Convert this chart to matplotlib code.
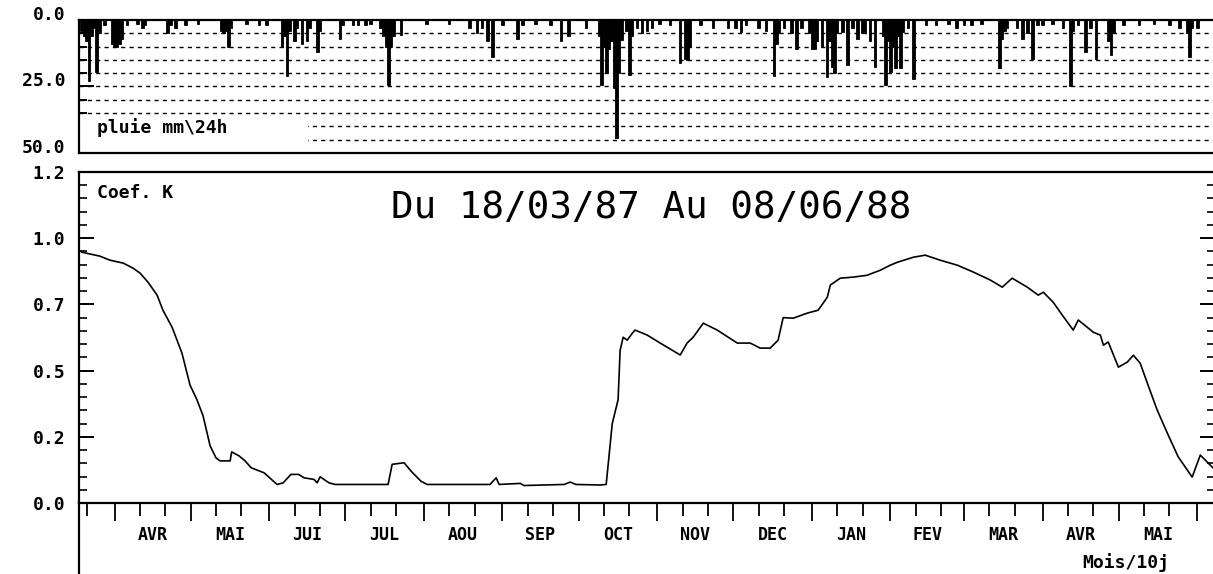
import numpy as np
import matplotlib
matplotlib.use('Agg')
import matplotlib.pyplot as plt
from matplotlib.lines import Line2D
from matplotlib.patches import Rectangle
from matplotlib.transforms import blended_transform_factory

start = np.datetime64('1987-03-18')
end = np.datetime64('1988-06-08')

# daily rain (mm/24h), day index counted from 18/03/87
rain_day = [1, 2, 3, 4, 5, 6, 7, 8, 10, 13, 14, 15, 16, 17, 19, 23, 25, 26, 35, 36,
            38, 42, 47, 56, 57, 58, 59, 60, 66, 71, 74, 80, 81, 82, 83, 85, 86, 88, 90, 91,
            94, 95, 103, 104, 108, 110, 113, 115, 119, 120, 121, 122, 123, 124, 127, 137, 146, 154, 157, 159,
            161, 163, 167, 173, 175, 180, 186, 190, 193, 200, 205, 206, 207, 208, 209, 210, 211, 212, 213, 214,
            216, 217, 218, 220, 222, 224, 226, 229, 233, 237, 239, 240, 241, 245, 250, 256, 259, 261, 263, 268,
            271, 274, 275, 276, 278, 281, 283, 285, 288, 289, 290, 291, 293, 295, 296, 297, 298, 299, 301, 303,
            305, 307, 309, 310, 312, 314, 317, 318, 319, 320, 321, 322, 323, 324, 325, 327, 329, 334, 338, 343,
            346, 349, 352, 356, 363, 364, 365, 366, 370, 372, 374, 376, 378, 380, 384, 388, 391, 392, 394, 397,
            399, 401, 406, 407, 408, 412, 418, 424, 430, 434, 437, 438, 439, 441]
rain_mm = [4, 6, 8, 23, 6, 3, 19.5, 5, 2, 9, 10, 10, 9, 7, 2, 1.5, 3, 2, 5, 2,
           3, 2, 1.5, 4, 5, 4, 10, 3, 1.5, 2, 2, 10, 6, 21, 4, 8, 3, 9, 8, 3,
           12, 4, 7, 2, 2, 2, 2, 1.5, 3, 6, 10, 24.5, 10, 6, 5.5, 1.5, 1.5, 3, 5, 3,
           8, 14, 2, 7, 2, 1.5, 2, 8, 6, 3, 6, 24.5, 10, 20, 11, 8, 25.5, 44.5, 20, 7.5,
           4, 20.5, 6, 3, 5, 4, 3, 1.5, 2, 16, 14.5, 15, 10, 2, 3, 3, 3, 4.5, 2, 3,
           4, 21, 9, 5, 3, 5, 11, 3, 5, 11, 11, 8, 10, 21.5, 8, 17.5, 20, 5, 4.5, 17,
           3, 7, 5, 4.5, 8, 17.5, 6, 24.5, 8, 19.5, 10, 18, 6, 18, 4.5, 3, 22, 2, 2, 1.5,
           3, 2, 2, 1.5, 18, 7, 4, 3, 3, 7, 5, 14.5, 2, 2, 1.5, 3, 25, 4, 2, 12,
           3, 14.5, 8, 13, 5, 2, 2, 1.5, 2, 3, 5, 14, 3, 3]

# coefficient K
k_day = [0, 1.2, 8.3, 12.2, 17.4, 21.3, 24.1, 27.2, 30.8, 33.1, 36.7, 40.6, 43.8, 46.5, 48.9,
         51.7, 54, 55.6, 59.6, 60.2, 63.1, 65.5, 67.9, 73, 78.1, 80.5, 83.6, 86.6, 88.8, 92.7,
         93.9, 95.1, 98.6, 101, 121.9, 123.5, 128.2, 131, 134.9, 137.3, 162.1, 164.5, 165.7, 174, 175.5,
         191.3, 193.7, 196, 205.5, 207.9, 210.3, 212.6, 213.4, 214.6, 216.2, 218.1, 219.3, 224.1, 229.2, 237.1,
         239.8, 242.2, 246.2, 251.7, 259.6, 264.7, 268.6, 272.6, 275.7, 277.7, 281.7, 287.2, 291.5, 295.1, 296.3,
         300.2, 305.3, 310.8, 316, 319.9, 322.7, 329, 333.7, 339.6, 346.4, 352.7, 359.4, 364.1, 368, 374,
         378.3, 380.3, 384.2, 387.8, 392.1, 394.1, 400, 402.8, 404, 405.9, 409.9, 413.4, 415.8, 418.5, 421.3,
         425.2, 429.2, 433.5, 439, 442.2, 448]
k_val = [0.955, 0.947, 0.932, 0.917, 0.906, 0.887, 0.868, 0.834, 0.785, 0.728, 0.664, 0.566, 0.445, 0.39, 0.33,
         0.216, 0.171, 0.159, 0.159, 0.193, 0.178, 0.159, 0.133, 0.114, 0.07, 0.076, 0.108, 0.108, 0.095, 0.089,
         0.076, 0.099, 0.076, 0.07, 0.07, 0.146, 0.152, 0.12, 0.082, 0.07, 0.07, 0.095, 0.07, 0.074, 0.066,
         0.07, 0.079, 0.07, 0.068, 0.07, 0.3, 0.39, 0.577, 0.626, 0.615, 0.64, 0.653, 0.634, 0.604, 0.559,
         0.604, 0.626, 0.679, 0.653, 0.604, 0.604, 0.585, 0.585, 0.615, 0.70, 0.698, 0.717, 0.728, 0.777, 0.823,
         0.849, 0.853, 0.860, 0.879, 0.898, 0.909, 0.928, 0.936, 0.917, 0.898, 0.872, 0.842, 0.815, 0.849, 0.815,
         0.785, 0.796, 0.758, 0.709, 0.653, 0.691, 0.645, 0.634, 0.596, 0.608, 0.513, 0.532, 0.558, 0.528, 0.453,
         0.351, 0.264, 0.174, 0.098, 0.181, 0.125]

month_names = ['AVR', 'MAI', 'JUI', 'JUL', 'AOU', 'SEP', 'OCT', 'NOV', 'DEC', 'JAN', 'FEV', 'MAR', 'AVR', 'MAI']
k_ticks = [0, 0.25, 0.5, 0.75, 1.0, 1.25]
k_labels = ['0.0', '0.2', '0.5', '0.7', '1.0', '1.2']

n_days = int((end - start) / np.timedelta64(1, 'D'))
months = np.arange(np.datetime64('1987-03'), np.datetime64('1988-07'), np.timedelta64(1, 'M'))
m0 = [int((m.astype('datetime64[D]') - start) / np.timedelta64(1, 'D')) for m in months]
major_x = [d for d in m0 if 0 <= d <= n_days]
minor_x = [d + k for d in m0 for k in (10, 20) if 0 <= d + k <= n_days]
label_x = [(m0[i] + m0[i + 1]) / 2 for i in range(1, len(m0) - 1)]

W, H = 1213, 574
mono = 'DejaVu Sans Mono'
fig = plt.figure(figsize=(W / 100, H / 100), dpi=100)
ax_r = fig.add_axes([79 / W, 1 - 153 / H, 1136 / W, 133 / H])
ax_k = fig.add_axes([79 / W, 1 - 503 / H, 1136 / W, 331 / H])

# rain panel
for y in range(5, 50, 5):
    ax_r.axhline(y, color='k', lw=1.0, ls=(0, (3, 3)), zorder=1)
ax_r.add_patch(Rectangle((0.5, 37), 90, 12.3, facecolor='white', edgecolor='none', zorder=2))
ax_r.bar(rain_day, rain_mm, width=1.0, color='k', edgecolor='k', linewidth=0.6, zorder=3)
ax_r.set_xlim(0, n_days)
ax_r.set_ylim(50, 0)
ax_r.set_xticks([])
ax_r.set_yticks([0, 25, 50], ['0.0', '25.0', '50.0'])
ax_r.set_yticks([5, 10, 15, 20, 30, 35, 40, 45], minor=True)
ax_r.tick_params(axis='y', which='major', direction='in', length=11, width=1.4, pad=10,
                 labelsize=13)
ax_r.tick_params(axis='y', which='minor', direction='in', length=6, width=1.4)
for t in ax_r.get_yticklabels():
    t.set_fontfamily(mono)
    t.set_fontweight('bold')
    t.set_verticalalignment('baseline')
ax_r.spines['right'].set_visible(False)
for s in ['top', 'left', 'bottom']:
    ax_r.spines[s].set_linewidth(1.6)

# K panel
ax_k.plot(k_day, k_val, color='k', lw=1.2)
ax_k.set_xlim(0, n_days)
ax_k.set_ylim(0, 1.25)
ax_k.set_yticks(k_ticks, k_labels)
ax_k.set_yticks(np.arange(0.05, 1.25, 0.05), minor=True)
ax_k.tick_params(axis='y', which='major', direction='in', length=11, width=1.4, pad=10,
                 labelsize=13, right=True)
ax_k.tick_params(axis='y', which='minor', direction='in', length=6, width=1.2, right=True)
for t in ax_k.get_yticklabels():
    t.set_fontfamily(mono)
    t.set_fontweight('bold')
ax_k.set_xticks(major_x, [''] * len(major_x))
ax_k.set_xticks(minor_x, minor=True)
ax_k.tick_params(axis='x', which='major', direction='out', length=13, width=1.3)
ax_k.tick_params(axis='x', which='minor', direction='out', length=9, width=1.3)
for s in ['top', 'left', 'bottom', 'right']:
    ax_k.spines[s].set_linewidth(1.6)

trans = blended_transform_factory(ax_k.transData, ax_k.transAxes)
for xm, name in zip(label_x, month_names):
    ax_k.text(xm, -0.097, name, transform=trans, ha='center', va='center',
              family=mono, fontweight='bold', fontsize=12)

fig.add_artist(Line2D([79 / W, 79 / W], [0, 1 - 503 / H], color='k', lw=1.6))

fig.text(97 / W, 1 - 128 / H, 'pluie mm\\24h', ha='left', va='center', family=mono,
         fontweight='bold', fontsize=13)
fig.text(97 / W, 1 - 193 / H, 'Coef. K', ha='left', va='center', family=mono,
         fontweight='bold', fontsize=13)
fig.text(651 / W, 1 - 208 / H, 'Du 18/03/87 Au 08/06/88', ha='center', va='center',
         family=mono, fontsize=27)
fig.text(1126 / W, 1 - 563 / H, 'Mois/10j', ha='center', va='center', family=mono,
         fontweight='bold', fontsize=13)

fig.savefig('out.png', dpi=100)
